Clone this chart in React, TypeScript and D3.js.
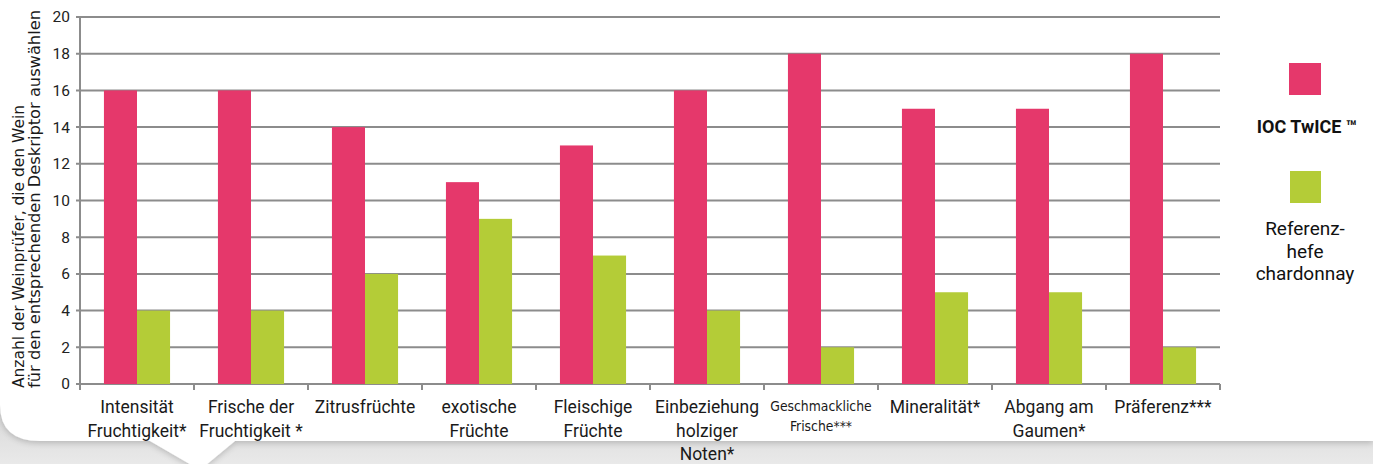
import { useMemo } from "react";
import * as d3 from "d3";

// chart data
const categories = [
  ["Intensität", "Fruchtigkeit*"],
  ["Frische der", "Fruchtigkeit *"],
  ["Zitrusfrüchte"],
  ["exotische", "Früchte"],
  ["Fleischige", "Früchte"],
  ["Einbeziehung", "holziger", "Noten*"],
  ["Geschmackliche", "Frische***"],
  ["Mineralität*"],
  ["Abgang am", "Gaumen*"],
  ["Präferenz***"],
];
const twiceValues = [16, 16, 14, 11, 13, 16, 18, 15, 15, 18];
const referenzValues = [4, 4, 6, 9, 7, 4, 2, 5, 5, 2];
const yTicks = [0, 2, 4, 6, 8, 10, 12, 14, 16, 18, 20];
const yLabel = ["Anzahl der Weinprüfer, die den Wein", "für den entsprechenden Deskriptor auswählen"];
const legendNames = [["IOC TwICE ™"], ["Referenz-", "hefe", "chardonnay"]];

const width = 1373;
const height = 464;
const MARGIN = { top: 17, right: 153, bottom: 80, left: 80 };
const PINK = "#E5386B";
const GREEN = "#B4CC37";
const GRID = "#8c8c8c";
const FONT = "Roboto, 'DejaVu Sans', sans-serif";

export default function App() {
  const boundsWidth = width - MARGIN.left - MARGIN.right;
  const boundsHeight = height - MARGIN.top - MARGIN.bottom;

  const xScale = useMemo(
    () => d3.scaleBand<number>().domain(d3.range(categories.length)).range([0, boundsWidth]),
    [boundsWidth]
  );
  const yScale = useMemo(
    () => d3.scaleLinear().domain([0, 20]).range([boundsHeight, 0]),
    [boundsHeight]
  );
  const barW = xScale.bandwidth() * 0.29;

  // card with pointer, drawn over a grey shadow band
  const cardEdge = 441;
  const cardPath = `M0,0 H${width} V${cardEdge} H235 L200,470 L150,${cardEdge} H40 Q0,${cardEdge} 0,405 Z`;

  return (
    <div style={{ position: "absolute", left: 0, top: 0 }}>
      <svg width={width} height={height} style={{ display: "block", fontFamily: FONT }}>
        <defs>
          <linearGradient id="shade" x1="0" y1="0" x2="0" y2="1">
            <stop offset="0" stopColor="#cfcfcf" />
            <stop offset="1" stopColor="#e9e9e9" />
          </linearGradient>
          <filter id="soft" x="-5%" y="-5%" width="110%" height="120%">
            <feGaussianBlur in="SourceAlpha" stdDeviation="3" />
            <feOffset dy="2" />
            <feComponentTransfer>
              <feFuncA type="linear" slope="0.2" />
            </feComponentTransfer>
            <feMerge>
              <feMergeNode />
              <feMergeNode in="SourceGraphic" />
            </feMerge>
          </filter>
        </defs>
        <rect x={0} y={380} width={width} height={height - 380} fill="url(#shade)" />
        <path d={cardPath} fill="#fff" filter="url(#soft)" />

        <g transform={`translate(${MARGIN.left},${MARGIN.top})`}>
          {/* grid lines */}
          {yTicks.map((t) => (
            <g key={t}>
              <line x1={-4} x2={boundsWidth} y1={yScale(t)} y2={yScale(t)} stroke={GRID} strokeWidth={2} />
              <text x={-10} y={yScale(t)} dy="0.35em" textAnchor="end" fontSize={15.5} fill="#222">
                {t}
              </text>
            </g>
          ))}
          <line x1={0} x2={0} y1={0} y2={boundsHeight} stroke={GRID} strokeWidth={2} />
          {/* x ticks */}
          {d3.range(categories.length + 1).map((i) => {
            const x = i < categories.length ? xScale(i)! : boundsWidth;
            return <line key={i} x1={x} x2={x} y1={boundsHeight} y2={boundsHeight + 6} stroke={GRID} strokeWidth={2} />;
          })}
          {/* bars */}
          {categories.map((_, i) => {
            const cx = xScale(i)! + xScale.bandwidth() / 2;
            return (
              <g key={i}>
                <rect x={cx - barW} y={yScale(twiceValues[i])} width={barW} height={boundsHeight - yScale(twiceValues[i])} fill={PINK} />
                <rect x={cx} y={yScale(referenzValues[i])} width={barW} height={boundsHeight - yScale(referenzValues[i])} fill={GREEN} />
              </g>
            );
          })}
          {/* category labels */}
          {categories.map((lines, i) => {
            const cx = xScale(i)! + xScale.bandwidth() / 2;
            const small = i === 6;
            return (
              <text key={i} x={cx} textAnchor="middle" fill="#1a1a1a" fontSize={small ? 13.8 : 17.5}
                fontFamily={small ? "'DejaVu Sans Condensed', sans-serif" : FONT}>
                {lines.map((l, j) => (
                  <tspan key={j} x={cx} y={boundsHeight + (small ? 27 : 29) + j * (small ? 19.5 : 23.5)}>
                    {l}
                  </tspan>
                ))}
              </text>
            );
          })}
        </g>

        {/* y axis title */}
        {yLabel.map((l, j) => (
          <text key={j} transform={`translate(${24 + j * 16},388) rotate(-90)`} fontSize={15}
            fontFamily="'DejaVu Sans', sans-serif" fill="#1a1a1a"
            textLength={j === 0 ? 283 : 378} lengthAdjust="spacingAndGlyphs">
            {l}
          </text>
        ))}

        {/* legend */}
        <rect x={1289} y={63} width={32} height={32} fill={PINK} />
        <text x={1307} y={133} textAnchor="middle" fontSize={18} fontWeight="bold" fill="#111">
          {legendNames[0][0]}
        </text>
        <rect x={1290} y={171} width={31} height={32} fill={GREEN} />
        <text textAnchor="middle" fontSize={19} fill="#111">
          {legendNames[1].map((l, j) => (
            <tspan key={j} x={1305} y={235 + j * 22.5}>
              {l}
            </tspan>
          ))}
        </text>
      </svg>
    </div>
  );
}
